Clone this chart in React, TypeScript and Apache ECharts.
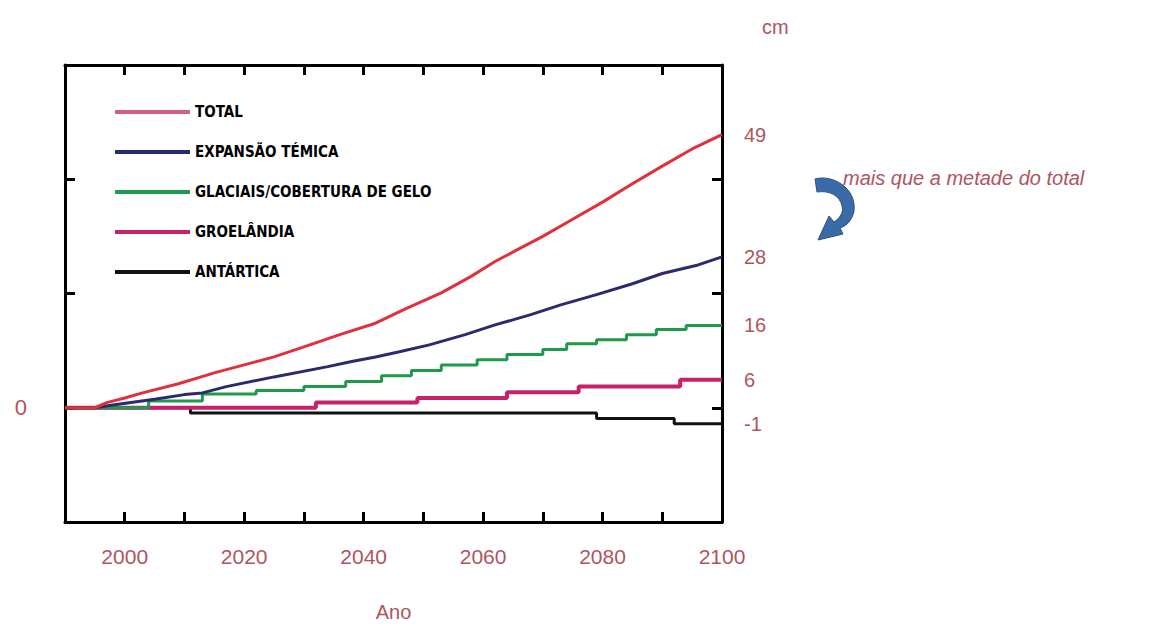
import React, { useEffect, useRef } from "react";
import * as echarts from "echarts";

const totalYears = [1990, 1995, 1997, 2000, 2003, 2009, 2015, 2020, 2025, 2031, 2036, 2042, 2047, 2053, 2058, 2062, 2066, 2070, 2075, 2080, 2085, 2090, 2095, 2100];
const totalValues = [0, 0, 0.9, 1.7, 2.6, 4.2, 6.1, 7.5, 8.9, 11.0, 12.8, 14.8, 17.3, 20.1, 23.0, 25.6, 27.8, 30.0, 33.0, 36.0, 39.2, 42.3, 45.3, 47.8];

const thermalYears = [1990, 1995, 1998, 2005, 2010, 2013, 2017, 2025, 2034, 2038, 2042, 2046, 2051, 2057, 2062, 2068, 2073, 2079, 2085, 2090, 2096, 2100];
const thermalValues = [0, 0, 0.5, 1.5, 2.3, 2.6, 3.7, 5.4, 7.2, 8.1, 8.9, 9.8, 11.0, 12.8, 14.5, 16.3, 18.0, 19.8, 21.7, 23.5, 25.0, 26.4];

const glacierYears = [1990, 2004, 2013, 2022, 2030, 2037, 2043, 2048, 2053, 2059, 2064, 2070, 2074, 2079, 2084, 2089, 2094, 2100];
const glacierValues = [0, 1.2, 2.4, 3.0, 3.7, 4.6, 5.6, 6.5, 7.5, 8.4, 9.3, 10.2, 11.2, 11.9, 12.8, 13.7, 14.4, 14.4];

const greenlandYears = [1990, 2032, 2049, 2064, 2076, 2093, 2100];
const greenlandValues = [0, 0.9, 1.7, 2.7, 3.7, 4.9, 4.9];

const antarcticYears = [1990, 2011, 2079, 2092, 2100];
const antarcticValues = [0, -0.9, -1.9, -2.8, -2.8];

const seriesNames = ["TOTAL", "EXPANSÃO TÉMICA", "GLACIAIS/COBERTURA DE GELO", "GROELÂNDIA", "ANTÁRTICA"];
const endLabels = ["49", "28", "16", "6", "-1"];
const xTickLabels = [2000, 2020, 2040, 2060, 2080, 2100];

const ROSE = "#b0545e";

const pair = (xs: number[], ys: number[]) => xs.map((x, i) => [x, ys[i]]);

const arrowPath =
  "M3 3 C20 -2 45 12 42 35 C40 45 34 50 28 52 L31 58 L6 64 L17 40 L22 46 C28 42 32 36 30 30 C28 20 18 14 5 16 Z";

const frameAxisLine = { show: true, onZero: false, lineStyle: { color: "#000", width: 3 } };
const frameTick = { show: true, inside: true, length: 10, lineStyle: { color: "#000", width: 3 } };

export default function App() {
  const ref = useRef<HTMLDivElement>(null);
  useEffect(() => {
    if (!ref.current) return;
    echarts.graphic.registerShape("curvedArrow", echarts.graphic.extendPath(arrowPath, {}));
    const chart = echarts.init(ref.current, null, { renderer: "svg" });

    const mkLine = (
      name: string,
      data: number[][],
      color: string,
      width: number,
      label: string,
      step: false | "end",
      z: number
    ) => ({
      name,
      type: "line",
      data,
      step,
      showSymbol: false,
      symbol: "none",
      z,
      lineStyle: { color, width },
      itemStyle: { color },
      endLabel: {
        show: true,
        formatter: () => label,
        color: ROSE,
        fontSize: 20,
        fontFamily: "Liberation Sans, Arial, sans-serif",
        distance: 22,
      },
    });

    chart.setOption({
      animation: false,
      backgroundColor: "#ffffff",
      grid: { left: 65, top: 65, right: 450, bottom: 109, containLabel: false },
      legend: {
        orient: "vertical",
        left: 110,
        top: 97,
        itemWidth: 75,
        itemHeight: 4,
        itemGap: 20,
        icon: "rect",
        textStyle: {
          fontFamily: "DejaVu Sans Condensed, Liberation Sans Narrow, sans-serif",
          fontWeight: "bold",
          fontSize: 15,
          color: "#000",
          lineHeight: 20,
        },
        data: [
          { name: seriesNames[0], itemStyle: { color: "#d4607f" } },
          { name: seriesNames[1] },
          { name: seriesNames[2] },
          { name: seriesNames[3] },
          { name: seriesNames[4] },
        ],
      },
      xAxis: [
        {
          type: "value",
          min: 1990,
          max: 2100,
          interval: 10,
          position: "bottom",
          name: "Ano",
          nameLocation: "middle",
          nameGap: 80,
          nameTextStyle: { color: ROSE, fontSize: 20, fontFamily: "Liberation Sans, Arial, sans-serif" },
          axisLine: frameAxisLine,
          axisTick: frameTick,
          axisLabel: {
            color: ROSE,
            fontSize: 21,
            margin: 24,
            fontFamily: "Liberation Sans, Arial, sans-serif",
            formatter: (v: number) => (xTickLabels.includes(v) ? String(v) : ""),
          },
          splitLine: { show: false },
        },
        {
          type: "value",
          min: 1990,
          max: 2100,
          interval: 10,
          position: "top",
          axisLine: frameAxisLine,
          axisTick: frameTick,
          axisLabel: { show: false },
          splitLine: { show: false },
        },
      ],
      yAxis: [
        {
          type: "value",
          min: -20,
          max: 60,
          interval: 20,
          position: "left",
          axisLine: frameAxisLine,
          axisTick: frameTick,
          axisLabel: {
            color: ROSE,
            fontSize: 22,
            margin: 38,
            fontFamily: "Liberation Sans, Arial, sans-serif",
            formatter: (v: number) => (v === 0 ? "0" : ""),
          },
          splitLine: { show: false },
        },
        {
          type: "value",
          min: -20,
          max: 60,
          interval: 20,
          position: "right",
          name: "cm",
          nameLocation: "end",
          nameGap: 28,
          nameTextStyle: {
            color: ROSE,
            fontSize: 20,
            align: "left",
            padding: [0, 0, 0, 40],
            fontFamily: "Liberation Sans, Arial, sans-serif",
          },
          axisLine: frameAxisLine,
          axisTick: frameTick,
          axisLabel: { show: false },
          splitLine: { show: false },
        },
      ],
      series: [
        mkLine(seriesNames[0], pair(totalYears, totalValues), "#e0303c", 3, endLabels[0], false, 6),
        mkLine(seriesNames[1], pair(thermalYears, thermalValues), "#2b2a6e", 3, endLabels[1], false, 5),
        mkLine(seriesNames[2], pair(glacierYears, glacierValues), "#1f9a4a", 3, endLabels[2], "end", 4),
        mkLine(seriesNames[3], pair(greenlandYears, greenlandValues), "#c8206a", 4, endLabels[3], "end", 3),
        mkLine(seriesNames[4], pair(antarcticYears, antarcticValues), "#111111", 3, endLabels[4], "end", 2),
      ],
      graphic: [
        {
          type: "curvedArrow",
          x: 812,
          y: 176,
          scaleX: 1,
          scaleY: 1,
          style: { fill: "#3b6aa8", stroke: "#2d4f80", lineWidth: 1 },
        },
        {
          type: "text",
          left: 843,
          top: 168,
          style: {
            text: "mais que a metade do total",
            fill: ROSE,
            fontSize: 20,
            fontStyle: "italic",
            fontFamily: "Liberation Sans, Arial, sans-serif",
          },
        },
      ],
    });
    return () => chart.dispose();
  }, []);
  return (
    <div
      ref={ref}
      style={{ position: "fixed", left: 0, top: 0, width: 1172, height: 631, background: "#fff" }}
    />
  );
}
